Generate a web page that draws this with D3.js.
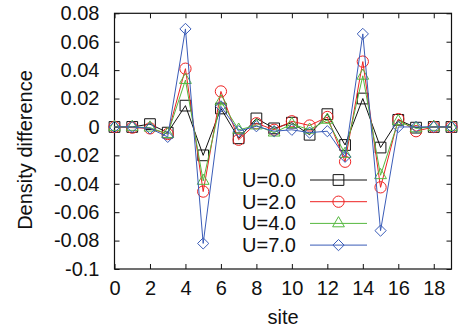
<!DOCTYPE html>
<html>
<head>
<meta charset="utf-8">
<script src="https://cdn.jsdelivr.net/npm/d3@7"></script>
<style>
  body { margin: 0; background: #fff; }
  svg text { font-family: "Liberation Sans", Arial, sans-serif; fill: #111; }
</style>
</head>
<body>
<div id="chart"></div>
<script>
let sites = d3.range(0, 20)
let xTicks = [0, 2, 4, 6, 8, 10, 12, 14, 16, 18]
let yTicks = [-0.1, -0.08, -0.06, -0.04, -0.02, 0, 0.02, 0.04, 0.06, 0.08]
let labels = ['U=0.0', 'U=2.0', 'U=4.0', 'U=7.0']

let u0 = [0, 0, 0.002, -0.004, 0.015, -0.020, 0.013, -0.008, 0.006, -0.001, 0.003, -0.0055, 0.009, -0.0127, 0.020, -0.0145, 0.005, -0.0005, 0, 0]
let u2 = [0, -0.0005, -0.001, -0.005, 0.041, -0.0455, 0.025, -0.009, 0.0026, -0.002, 0.004, 0.001, 0.007, -0.0245, 0.046, -0.0425, 0.0055, -0.003, 0, 0]
let u4 = [0, 0, -0.0005, -0.005, 0.033, -0.038, 0.018, -0.002, 0.001, -0.004, 0.002, -0.002, 0.005, -0.019, 0.036, -0.034, 0.004, -0.001, 0, 0]
let u7 = [0, 0, -0.001, -0.007, 0.069, -0.082, 0.0145, -0.003, 0.0005, -0.003, -0.002, -0.004, -0.003, -0.021, 0.0655, -0.073, 0, 0, 0, 0]

let series = [
  {name: labels[0], values: u0, color: '#111111', symbol: d3.symbolSquare, size: 115},
  {name: labels[1], values: u2, color: '#ee2222', symbol: d3.symbolCircle, size: 100},
  {name: labels[2], values: u4, color: '#55b83f', symbol: d3.symbolTriangle, size: 60},
  {name: labels[3], values: u7, color: '#3a5cb8', symbol: d3.symbolDiamond2, size: 80}
]

let width = 458
let height = 329
let plotLeft = 114.5, plotRight = 451.5, plotTop = 13.3, plotBottom = 269

let svg = d3.select('#chart')
  .append('svg')
    .attr('width', width)
    .attr('height', height)

let x = d3.scaleLinear().domain([0, 19]).range([plotLeft, plotRight])
let y = d3.scaleLinear().domain([-0.1, 0.08]).range([plotBottom, plotTop])

let tickLen = 5
let fmt = d => d === 0 ? '0' : d3.format('.2~f')(d).replace('−', '-')

// axes (ticks inside, mirrored on top and right)
let gx = svg.append('g').attr('transform', `translate(0,${plotBottom})`)
  .call(d3.axisBottom(x).tickValues(xTicks).tickSizeInner(-tickLen).tickSizeOuter(0).tickPadding(12).tickFormat(d3.format('d')))
let gxTop = svg.append('g').attr('transform', `translate(0,${plotTop})`)
  .call(d3.axisTop(x).tickValues(xTicks).tickSizeInner(-tickLen).tickSizeOuter(0).tickFormat(''))
let gy = svg.append('g').attr('transform', `translate(${plotLeft},0)`)
  .call(d3.axisLeft(y).tickValues(yTicks).tickSizeInner(-tickLen).tickSizeOuter(0).tickPadding(15).tickFormat(fmt))
let gyRight = svg.append('g').attr('transform', `translate(${plotRight},0)`)
  .call(d3.axisRight(y).tickValues(yTicks).tickSizeInner(-tickLen).tickSizeOuter(0).tickFormat(''))

;[gx, gxTop, gy, gyRight].forEach(g => {
  g.select('.domain').remove()
  g.selectAll('.tick line').attr('stroke', '#111')
  g.selectAll('text').attr('font-size', 20).attr('font-family', '"Liberation Sans", Arial, sans-serif').attr('fill', '#111')
})

svg.append('rect')
  .attr('x', plotLeft).attr('y', plotTop)
  .attr('width', plotRight - plotLeft).attr('height', plotBottom - plotTop)
  .attr('fill', 'none').attr('stroke', '#111').attr('stroke-width', 1.2)

svg.append('text')
  .attr('x', (plotLeft + plotRight) / 2).attr('y', 324)
  .attr('text-anchor', 'middle').attr('font-size', 20)
  .text('site')

svg.append('text')
  .attr('transform', `translate(32,150) rotate(-90)`)
  .attr('text-anchor', 'middle').attr('font-size', 20)
  .text('Density difference')

let line = d3.line().x((d, i) => x(sites[i])).y(d => y(d))

series.forEach(s => {
  let g = svg.append('g')
  g.append('path')
    .attr('d', line(s.values))
    .attr('fill', 'none')
    .attr('stroke', s.color)
    .attr('stroke-width', 1)
  g.selectAll('path.pt')
    .data(s.values)
    .enter()
    .append('path')
      .attr('class', 'pt')
      .attr('transform', (d, i) => `translate(${x(sites[i])},${y(d)})`)
      .attr('d', d3.symbol().type(s.symbol).size(s.size))
      .attr('fill', 'none')
      .attr('stroke', s.color)
      .attr('stroke-width', 1)
})

// legend
let legend = svg.append('g')
series.forEach((s, i) => {
  let ly = 180 + i * 21.7
  legend.append('text')
    .attr('x', 296).attr('y', ly)
    .attr('dy', '0.35em')
    .attr('text-anchor', 'end')
    .attr('font-size', 20)
    .text(s.name)
  legend.append('line')
    .attr('x1', 310).attr('x2', 367)
    .attr('y1', ly).attr('y2', ly)
    .attr('stroke', s.color).attr('stroke-width', 1)
  legend.append('path')
    .attr('transform', `translate(338.5,${ly})`)
    .attr('d', d3.symbol().type(s.symbol).size(s.size))
    .attr('fill', 'none')
    .attr('stroke', s.color)
})
</script>
</body>
</html>
